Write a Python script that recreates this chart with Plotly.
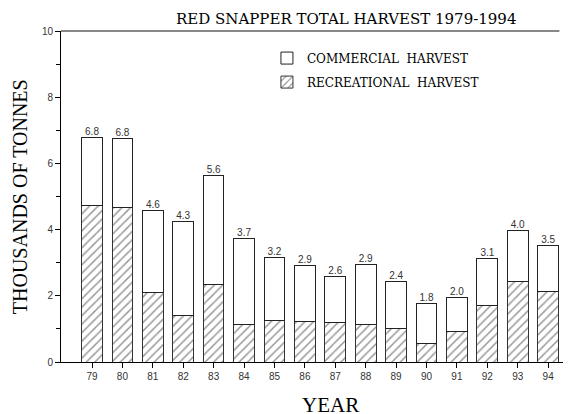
import plotly.graph_objects as go

YEARS = [79, 80, 81, 82, 83, 84, 85, 86, 87, 88, 89, 90, 91, 92, 93, 94]
RECREATIONAL = [4.74, 4.68, 2.09, 1.41, 2.35, 1.14, 1.25, 1.22, 1.19, 1.14, 1.02, 0.56, 0.92, 1.71, 2.43, 2.12]
COMMERCIAL = [2.04, 2.08, 2.50, 2.84, 3.27, 2.59, 1.91, 1.70, 1.40, 1.81, 1.40, 1.21, 1.04, 1.42, 1.55, 1.40]
TOTAL_LABELS = ["6.8", "6.8", "4.6", "4.3", "5.6", "3.7", "3.2", "2.9", "2.6", "2.9", "2.4", "1.8", "2.0", "3.1", "4.0", "3.5"]

SERIF = "Liberation Serif"
WIDE_SERIF = "DejaVu Serif"
SANS = "Liberation Sans"

totals = [r + c for r, c in zip(RECREATIONAL, COMMERCIAL)]

fig = go.Figure()
fig.add_trace(go.Bar(
    x=YEARS, y=RECREATIONAL, name="RECREATIONAL  HARVEST", width=0.68,
    legendgroup="rec", legendrank=2,
    marker=dict(color="white", line=dict(color="#333", width=1),
                pattern=dict(shape="/", fgcolor="#333", bgcolor="white", size=6, solidity=0.25)),
))
fig.add_trace(go.Bar(
    x=YEARS, y=COMMERCIAL, name="COMMERCIAL  HARVEST", width=0.68,
    legendgroup="com", legendrank=1,
    marker=dict(color="white", line=dict(color="#222", width=1)),
))
fig.add_trace(go.Scatter(
    x=YEARS, y=totals, mode="text", text=TOTAL_LABELS, textposition="top center",
    textfont=dict(family=SANS, size=10, color="#333"), showlegend=False, hoverinfo="skip",
))

# the page adds an 8px body margin, so the figure is a bit smaller than the window
fig.update_layout(
    width=563, height=406,
    barmode="stack",
    plot_bgcolor="white", paper_bgcolor="white",
    margin=dict(l=53, r=4, t=23, b=52),
    showlegend=True,
    legend=dict(x=0.407, y=0.962, xanchor="left", yanchor="top", traceorder="grouped",
                font=dict(family=WIDE_SERIF, size=12, color="black"), bgcolor="rgba(0,0,0,0)",
                itemwidth=30, tracegroupgap=5),
    xaxis=dict(range=[77.98, 94.62], tickvals=YEARS, ticktext=[str(y) for y in YEARS],
               showgrid=False, zeroline=False, showline=True, linecolor="black", linewidth=1,
               ticks="outside", ticklen=5, tickcolor="black",
               tickfont=dict(family=SANS, size=10, color="#333")),
    yaxis=dict(range=[0, 10], dtick=2, showgrid=False, zeroline=False, showline=True,
               linecolor="black", linewidth=1, ticks="outside", ticklen=5, tickcolor="black",
               tickfont=dict(family=SANS, size=10, color="#333"),
               minor=dict(dtick=1, ticks="outside", ticklen=4, tickcolor="black")),
    shapes=[dict(type="line", xref="paper", yref="paper", x0=0, x1=0.985, y0=1, y1=1,
                 line=dict(color="#888", width=2))],
    annotations=[
        dict(text="RED SNAPPER TOTAL HARVEST 1979-1994", xref="paper", yref="paper",
             x=0.563, y=1.0, yanchor="bottom", yshift=1, showarrow=False,
             font=dict(family=WIDE_SERIF, size=15, color="black")),
        dict(text="THOUSANDS OF TONNES", xref="paper", yref="paper", x=-0.081, y=0.498,
             textangle=-90, showarrow=False, xanchor="center", yanchor="middle",
             font=dict(family=SERIF, size=20, color="black")),
        dict(text="YEAR", xref="paper", yref="paper", x=0.532, y=-0.088, yanchor="top",
             showarrow=False, font=dict(family=SERIF, size=21, color="black")),
    ],
)

fig.write_html("out.html")
